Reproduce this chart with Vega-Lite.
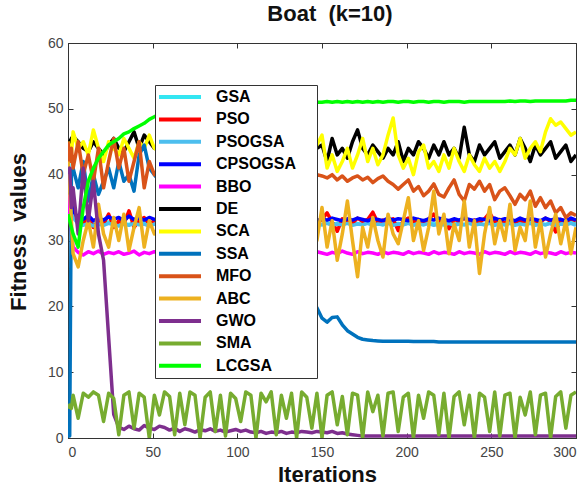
{
"$schema":"https://vega.github.io/schema/vega-lite/v6.json",
"width":508,"height":395,
"autosize":{"type":"none"},
"padding":{"left":68,"top":43,"right":11,"bottom":48},
"background":"white",
"config":{"font":"Liberation Sans","view":{"stroke":"#333","strokeWidth":1}},
"title":{"text":"Boat\u00a0 (k=10)","fontSize":22,"fontWeight":"bold","color":"#111","offset":10,"dx":8},
"data":{"values":[
{"it":0,"GSA":43,"PSO":40,"PSOGSA":42,"CPSOGSA":41,"BBO":37,"DE":44,"SCA":45,"SSA":0.3,"MFO":45,"ABC":42,"GWO":40,"SMA":4.5,"LCGSA":34},
{"it":1,"GSA":40,"PSO":38,"PSOGSA":39,"CPSOGSA":38,"BBO":34,"DE":45,"SCA":44,"SSA":0.3,"MFO":42,"ABC":38,"GWO":41,"SMA":5,"LCGSA":33},
{"it":2,"GSA":36,"PSO":36,"PSOGSA":35,"CPSOGSA":36,"BBO":31,"DE":45.5,"SCA":43,"SSA":40,"MFO":44,"ABC":33,"GWO":35,"SMA":4.5,"LCGSA":32},
{"it":3,"GSA":34,"PSO":34,"PSOGSA":33.5,"CPSOGSA":34.5,"BBO":29,"DE":45.8,"SCA":46.5,"SSA":41,"MFO":41,"ABC":28,"GWO":38,"SMA":6.5,"LCGSA":31},
{"it":6,"GSA":33,"PSO":33,"PSOGSA":32.5,"CPSOGSA":33.5,"BBO":28.2,"DE":45,"SCA":44,"SSA":38,"MFO":45,"ABC":26,"GWO":31,"SMA":3,"LCGSA":29},
{"it":9,"GSA":32.8,"PSO":32.5,"PSOGSA":32.3,"CPSOGSA":33.2,"BBO":27.8,"DE":44,"SCA":45,"SSA":42,"MFO":40,"ABC":30,"GWO":41,"SMA":6.8,"LCGSA":35},
{"it":12,"GSA":32.5,"PSO":33.5,"PSOGSA":32.6,"CPSOGSA":33.8,"BBO":28.3,"DE":43.5,"SCA":43,"SSA":36,"MFO":43,"ABC":33,"GWO":33,"SMA":6.2,"LCGSA":39},
{"it":15,"GSA":32.7,"PSO":32,"PSOGSA":32.2,"CPSOGSA":33,"BBO":28,"DE":45,"SCA":46.8,"SSA":40,"MFO":39,"ABC":29,"GWO":39,"SMA":7,"LCGSA":41},
{"it":18,"GSA":32.4,"PSO":33,"PSOGSA":32.5,"CPSOGSA":33.4,"BBO":28.4,"DE":44,"SCA":44,"SSA":37,"MFO":44,"ABC":35.5,"GWO":31,"SMA":6.5,"LCGSA":42.5},
{"it":21,"GSA":32.6,"PSO":32.5,"PSOGSA":32.3,"CPSOGSA":33.1,"BBO":27.9,"DE":43,"SCA":42,"SSA":39,"MFO":38,"ABC":31,"GWO":27,"SMA":2.5,"LCGSA":43.5},
{"it":24,"GSA":32.8,"PSO":34,"PSOGSA":32.6,"CPSOGSA":33.6,"BBO":28.2,"DE":44.5,"SCA":45,"SSA":41,"MFO":42,"ABC":29,"GWO":15.3,"SMA":6.8,"LCGSA":44.5},
{"it":27,"GSA":32.5,"PSO":32,"PSOGSA":32.4,"CPSOGSA":33.2,"BBO":28,"DE":45.5,"SCA":44,"SSA":38,"MFO":45.5,"ABC":33.5,"GWO":3.6,"SMA":6,"LCGSA":45},
{"it":30,"GSA":32.3,"PSO":33,"PSOGSA":32.2,"CPSOGSA":33.5,"BBO":28.3,"DE":44,"SCA":43,"SSA":42,"MFO":41,"ABC":30,"GWO":1.6,"SMA":0.5,"LCGSA":45.5},
{"it":33,"GSA":32.6,"PSO":32.5,"PSOGSA":32.5,"CPSOGSA":33,"BBO":27.9,"DE":43.5,"SCA":45.5,"SSA":39,"MFO":44,"ABC":34,"GWO":1.3,"SMA":6.5,"LCGSA":46.2},
{"it":36,"GSA":32.4,"PSO":34.5,"PSOGSA":32.3,"CPSOGSA":33.7,"BBO":28.1,"DE":45,"SCA":44,"SSA":40,"MFO":39,"ABC":28.5,"GWO":1.8,"SMA":7,"LCGSA":46.5},
{"it":39,"GSA":32.7,"PSO":32,"PSOGSA":32.6,"CPSOGSA":33.2,"BBO":28.4,"DE":46.5,"SCA":42.5,"SSA":37.5,"MFO":42,"ABC":32,"GWO":1.4,"SMA":1.5,"LCGSA":47},
{"it":42,"GSA":32.5,"PSO":33,"PSOGSA":32.4,"CPSOGSA":33.4,"BBO":27.8,"DE":44,"SCA":45,"SSA":43,"MFO":45,"ABC":35,"GWO":1.2,"SMA":6.8,"LCGSA":47.4},
{"it":45,"GSA":32.8,"PSO":33.5,"PSOGSA":32.5,"CPSOGSA":33.1,"BBO":28.2,"DE":46,"SCA":44,"SSA":44.5,"MFO":38,"ABC":29,"GWO":1.9,"SMA":6.2,"LCGSA":47.8},
{"it":48,"GSA":32.4,"PSO":32.5,"PSOGSA":32.2,"CPSOGSA":33.5,"BBO":28,"DE":45,"SCA":46,"SSA":41,"MFO":42,"ABC":33,"GWO":1.5,"SMA":0,"LCGSA":48.4},
{"it":51,"GSA":32.6,"PSO":33,"PSOGSA":32.5,"CPSOGSA":33.2,"BBO":28.3,"DE":44,"SCA":44,"SSA":40,"MFO":40,"ABC":31,"GWO":1.3,"SMA":6.5,"LCGSA":48.8},
{"it":54,"GSA":32.5,"PSO":33.2,"PSOGSA":32.4,"CPSOGSA":33.3,"BBO":28.1,"DE":44.5,"SCA":43.5,"SSA":39,"MFO":41,"ABC":32,"GWO":1.8,"SMA":3.5,"LCGSA":49.2},
{"it":57,"GSA":32.7,"PSO":32.8,"PSOGSA":32.6,"CPSOGSA":33,"BBO":28,"DE":43.5,"SCA":44.5,"SSA":38,"MFO":40,"ABC":30,"GWO":1.6,"SMA":7,"LCGSA":49.5},
{"it":60,"GSA":32.5,"PSO":33.4,"PSOGSA":32.3,"CPSOGSA":33.4,"BBO":28.2,"DE":45,"SCA":43,"SSA":36,"MFO":41.5,"ABC":34,"GWO":1.2,"SMA":6.3,"LCGSA":49.8},
{"it":63,"GSA":32.6,"PSO":32.9,"PSOGSA":32.5,"CPSOGSA":33.1,"BBO":27.9,"DE":44,"SCA":44,"SSA":35,"MFO":40.5,"ABC":29,"GWO":1.5,"SMA":0.5,"LCGSA":50},
{"it":66,"GSA":32.4,"PSO":33.1,"PSOGSA":32.4,"CPSOGSA":33.3,"BBO":28.3,"DE":43,"SCA":45,"SSA":34.5,"MFO":41,"ABC":33,"GWO":1.0,"SMA":6.8,"LCGSA":50.2},
{"it":69,"GSA":32.7,"PSO":32.7,"PSOGSA":32.6,"CPSOGSA":33.2,"BBO":28,"DE":44.5,"SCA":43.5,"SSA":33.5,"MFO":40,"ABC":31,"GWO":1.4,"SMA":2,"LCGSA":50.3},
{"it":72,"GSA":32.5,"PSO":33.3,"PSOGSA":32.3,"CPSOGSA":33,"BBO":28.2,"DE":45,"SCA":44,"SSA":33,"MFO":41,"ABC":35,"GWO":1.2,"SMA":7,"LCGSA":50.4},
{"it":75,"GSA":32.6,"PSO":32.8,"PSOGSA":32.5,"CPSOGSA":33.4,"BBO":28.1,"DE":43.5,"SCA":42.5,"SSA":32,"MFO":40.5,"ABC":30,"GWO":0.9,"SMA":6.5,"LCGSA":50.5},
{"it":78,"GSA":32.4,"PSO":33.2,"PSOGSA":32.4,"CPSOGSA":33.1,"BBO":27.9,"DE":44,"SCA":45,"SSA":31,"MFO":41.5,"ABC":32.5,"GWO":1.3,"SMA":0,"LCGSA":50.6},
{"it":81,"GSA":32.7,"PSO":32.9,"PSOGSA":32.6,"CPSOGSA":33.3,"BBO":28.2,"DE":45,"SCA":44,"SSA":30,"MFO":40,"ABC":29.5,"GWO":1.1,"SMA":6.2,"LCGSA":50.6},
{"it":84,"GSA":32.5,"PSO":33.4,"PSOGSA":32.3,"CPSOGSA":33.2,"BBO":28,"DE":43,"SCA":43,"SSA":29.5,"MFO":40.5,"ABC":34,"GWO":1.4,"SMA":7,"LCGSA":50.7},
{"it":87,"GSA":32.6,"PSO":32.8,"PSOGSA":32.5,"CPSOGSA":33,"BBO":28.3,"DE":44.5,"SCA":45.5,"SSA":29,"MFO":41,"ABC":31,"GWO":1.0,"SMA":1,"LCGSA":50.7},
{"it":90,"GSA":32.4,"PSO":33.1,"PSOGSA":32.4,"CPSOGSA":33.4,"BBO":28.1,"DE":44,"SCA":43.5,"SSA":28,"MFO":40,"ABC":33,"GWO":1.2,"SMA":6.5,"LCGSA":50.8},
{"it":93,"GSA":32.7,"PSO":32.7,"PSOGSA":32.6,"CPSOGSA":33.1,"BBO":27.9,"DE":45.5,"SCA":44,"SSA":27.5,"MFO":40.5,"ABC":28.5,"GWO":0.9,"SMA":0.3,"LCGSA":50.8},
{"it":96,"GSA":32.5,"PSO":33.3,"PSOGSA":32.3,"CPSOGSA":33.3,"BBO":28.2,"DE":43.5,"SCA":42,"SSA":27,"MFO":41,"ABC":32,"GWO":1.1,"SMA":6.8,"LCGSA":50.9},
{"it":99,"GSA":32.6,"PSO":32.9,"PSOGSA":32.5,"CPSOGSA":33.2,"BBO":28,"DE":44,"SCA":45,"SSA":26,"MFO":40,"ABC":35,"GWO":1.3,"SMA":6,"LCGSA":50.9},
{"it":102,"GSA":32.4,"PSO":33.2,"PSOGSA":32.4,"CPSOGSA":33,"BBO":28.3,"DE":45,"SCA":43,"SSA":25.5,"MFO":40.5,"ABC":30,"GWO":1.0,"SMA":2.5,"LCGSA":50.9},
{"it":105,"GSA":32.7,"PSO":32.8,"PSOGSA":32.6,"CPSOGSA":33.4,"BBO":28.1,"DE":43,"SCA":44.5,"SSA":25,"MFO":40,"ABC":33.5,"GWO":1.2,"SMA":7,"LCGSA":51},
{"it":108,"GSA":32.5,"PSO":33.3,"PSOGSA":32.3,"CPSOGSA":33.1,"BBO":27.9,"DE":44.5,"SCA":43.5,"SSA":24,"MFO":40.5,"ABC":29,"GWO":0.9,"SMA":6.5,"LCGSA":51},
{"it":111,"GSA":32.6,"PSO":32.7,"PSOGSA":32.5,"CPSOGSA":33.3,"BBO":28.2,"DE":44,"SCA":45,"SSA":23.5,"MFO":39.5,"ABC":34,"GWO":0.8,"SMA":0,"LCGSA":51},
{"it":114,"GSA":32.4,"PSO":33.4,"PSOGSA":32.4,"CPSOGSA":33.2,"BBO":28,"DE":45,"SCA":42.5,"SSA":23,"MFO":40,"ABC":31,"GWO":1.0,"SMA":6.8,"LCGSA":51},
{"it":117,"GSA":32.7,"PSO":32.9,"PSOGSA":32.6,"CPSOGSA":33,"BBO":28.3,"DE":43.5,"SCA":44,"SSA":22.5,"MFO":40.5,"ABC":33,"GWO":0.7,"SMA":5.5,"LCGSA":51},
{"it":120,"GSA":32.5,"PSO":33.1,"PSOGSA":32.3,"CPSOGSA":33.4,"BBO":28.1,"DE":44,"SCA":45.5,"SSA":22,"MFO":39.5,"ABC":28.5,"GWO":0.9,"SMA":7,"LCGSA":51},
{"it":123,"GSA":32.6,"PSO":32.8,"PSOGSA":32.5,"CPSOGSA":33.1,"BBO":27.9,"DE":45.5,"SCA":43,"SSA":21.8,"MFO":40,"ABC":32,"GWO":0.8,"SMA":0.5,"LCGSA":51},
{"it":126,"GSA":32.4,"PSO":33.3,"PSOGSA":32.4,"CPSOGSA":33.3,"BBO":28.2,"DE":44,"SCA":44,"SSA":21.5,"MFO":40.5,"ABC":35,"GWO":1.0,"SMA":6.5,"LCGSA":51},
{"it":129,"GSA":32.7,"PSO":32.7,"PSOGSA":32.6,"CPSOGSA":33.2,"BBO":28,"DE":43,"SCA":42.5,"SSA":21.2,"MFO":39.5,"ABC":30,"GWO":0.7,"SMA":3,"LCGSA":51},
{"it":132,"GSA":32.5,"PSO":33.2,"PSOGSA":32.3,"CPSOGSA":33,"BBO":28.3,"DE":44.5,"SCA":45,"SSA":21,"MFO":40,"ABC":33.5,"GWO":0.9,"SMA":6.8,"LCGSA":51},
{"it":135,"GSA":32.6,"PSO":32.9,"PSOGSA":32.5,"CPSOGSA":33.4,"BBO":28.1,"DE":45,"SCA":43.5,"SSA":20.8,"MFO":40.5,"ABC":29,"GWO":0.8,"SMA":0,"LCGSA":51},
{"it":138,"GSA":32.4,"PSO":33.4,"PSOGSA":32.4,"CPSOGSA":33.1,"BBO":27.9,"DE":43.5,"SCA":44,"SSA":20.5,"MFO":39.5,"ABC":34,"GWO":1.0,"SMA":7,"LCGSA":51},
{"it":141,"GSA":32.7,"PSO":32.8,"PSOGSA":32.6,"CPSOGSA":33.3,"BBO":28.2,"DE":44,"SCA":45,"SSA":20.3,"MFO":40,"ABC":31,"GWO":0.9,"SMA":6.2,"LCGSA":51},
{"it":144,"GSA":32.5,"PSO":33.1,"PSOGSA":32.3,"CPSOGSA":33.2,"BBO":28,"DE":45,"SCA":43,"SSA":20,"MFO":39.5,"ABC":33,"GWO":0.8,"SMA":1.5,"LCGSA":51},
{"it":147,"GSA":32.6,"PSO":32.7,"PSOGSA":32.5,"CPSOGSA":33,"BBO":28.3,"DE":44,"SCA":44.5,"SSA":19.8,"MFO":40,"ABC":30,"GWO":1.0,"SMA":6.8,"LCGSA":51},
{"it":150,"GSA":32.4,"PSO":33.2,"PSOGSA":32.4,"CPSOGSA":33.3,"BBO":28.1,"DE":44.5,"SCA":46,"SSA":18.2,"MFO":39.8,"ABC":35,"GWO":0.9,"SMA":0,"LCGSA":51},
{"it":153,"GSA":32.7,"PSO":34.2,"PSOGSA":32.6,"CPSOGSA":33.1,"BBO":27.9,"DE":42,"SCA":41,"SSA":17.6,"MFO":39.5,"ABC":29,"GWO":0.8,"SMA":6.5,"LCGSA":51.1},
{"it":156,"GSA":32.5,"PSO":32.8,"PSOGSA":32.3,"CPSOGSA":33.4,"BBO":28.2,"DE":45.5,"SCA":43,"SSA":18.3,"MFO":40,"ABC":33,"GWO":1.0,"SMA":7,"LCGSA":51},
{"it":159,"GSA":32.6,"PSO":31.4,"PSOGSA":32.5,"CPSOGSA":33.2,"BBO":28,"DE":43,"SCA":40.5,"SSA":18.4,"MFO":39.2,"ABC":27,"GWO":0.7,"SMA":2,"LCGSA":51.1},
{"it":162,"GSA":32.4,"PSO":33.3,"PSOGSA":32.4,"CPSOGSA":33,"BBO":28.4,"DE":44,"SCA":42,"SSA":17.2,"MFO":39.8,"ABC":31,"GWO":0.8,"SMA":6.3,"LCGSA":51},
{"it":165,"GSA":32.7,"PSO":33,"PSOGSA":32.6,"CPSOGSA":33.3,"BBO":28.1,"DE":42.5,"SCA":44,"SSA":16.3,"MFO":39,"ABC":36,"GWO":0.6,"SMA":0.5,"LCGSA":51.1},
{"it":168,"GSA":32.5,"PSO":32.6,"PSOGSA":32.3,"CPSOGSA":33.1,"BBO":27.9,"DE":45,"SCA":41,"SSA":15.8,"MFO":39.5,"ABC":30,"GWO":0.5,"SMA":6.8,"LCGSA":51},
{"it":171,"GSA":32.6,"PSO":33.4,"PSOGSA":32.5,"CPSOGSA":33.4,"BBO":28.3,"DE":46.8,"SCA":43,"SSA":15.3,"MFO":39.8,"ABC":24.5,"GWO":0.4,"SMA":6.5,"LCGSA":51.1},
{"it":174,"GSA":32.4,"PSO":32.9,"PSOGSA":32.4,"CPSOGSA":33.2,"BBO":28,"DE":44,"SCA":45.5,"SSA":15,"MFO":39.2,"ABC":32,"GWO":0.3,"SMA":0,"LCGSA":51},
{"it":177,"GSA":32.7,"PSO":33.2,"PSOGSA":32.6,"CPSOGSA":33,"BBO":28.2,"DE":43,"SCA":42,"SSA":14.9,"MFO":39.6,"ABC":29,"GWO":0.3,"SMA":7,"LCGSA":51.1},
{"it":180,"GSA":32.5,"PSO":34.3,"PSOGSA":32.3,"CPSOGSA":33.3,"BBO":28.1,"DE":44.5,"SCA":44,"SSA":14.8,"MFO":38.8,"ABC":33.5,"GWO":0.3,"SMA":4,"LCGSA":51},
{"it":183,"GSA":32.6,"PSO":32.7,"PSOGSA":32.5,"CPSOGSA":33.2,"BBO":27.9,"DE":43.5,"SCA":41.5,"SSA":14.75,"MFO":39.4,"ABC":30,"GWO":0.3,"SMA":6.5,"LCGSA":51.1},
{"it":186,"GSA":32.4,"PSO":33.1,"PSOGSA":32.4,"CPSOGSA":33,"BBO":28.3,"DE":42.5,"SCA":43,"SSA":14.7,"MFO":39.8,"ABC":27.5,"GWO":0.3,"SMA":0.3,"LCGSA":51},
{"it":189,"GSA":32.7,"PSO":32.8,"PSOGSA":32.6,"CPSOGSA":33.4,"BBO":28,"DE":44,"SCA":46,"SSA":14.7,"MFO":39,"ABC":34,"GWO":0.3,"SMA":6.8,"LCGSA":51.1},
{"it":192,"GSA":32.5,"PSO":33.3,"PSOGSA":32.3,"CPSOGSA":33.1,"BBO":28.2,"DE":43,"SCA":48.6,"SSA":14.7,"MFO":38.5,"ABC":31,"GWO":0.3,"SMA":7,"LCGSA":51.1},
{"it":195,"GSA":32.6,"PSO":31.5,"PSOGSA":32.5,"CPSOGSA":33.3,"BBO":28.1,"DE":45,"SCA":43,"SSA":14.7,"MFO":37.8,"ABC":29.5,"GWO":0.3,"SMA":1,"LCGSA":51},
{"it":198,"GSA":32.4,"PSO":33,"PSOGSA":32.4,"CPSOGSA":33.2,"BBO":27.9,"DE":42,"SCA":41,"SSA":14.7,"MFO":38.5,"ABC":33,"GWO":0.3,"SMA":6.2,"LCGSA":51.1},
{"it":201,"GSA":32.7,"PSO":33.4,"PSOGSA":32.6,"CPSOGSA":33,"BBO":28.3,"DE":44,"SCA":42.5,"SSA":14.7,"MFO":39.2,"ABC":36.5,"GWO":0.3,"SMA":6.8,"LCGSA":51.1},
{"it":204,"GSA":32.5,"PSO":32.9,"PSOGSA":32.3,"CPSOGSA":33.4,"BBO":28,"DE":43,"SCA":40,"SSA":14.65,"MFO":37.5,"ABC":30,"GWO":0.3,"SMA":0,"LCGSA":51},
{"it":207,"GSA":32.6,"PSO":33.2,"PSOGSA":32.5,"CPSOGSA":33.2,"BBO":28.2,"DE":45,"SCA":43.5,"SSA":14.65,"MFO":38.2,"ABC":33,"GWO":0.3,"SMA":6.5,"LCGSA":51.1},
{"it":210,"GSA":32.4,"PSO":32.7,"PSOGSA":32.4,"CPSOGSA":33,"BBO":28.1,"DE":44,"SCA":44.5,"SSA":14.65,"MFO":36.8,"ABC":28.5,"GWO":0.3,"SMA":3,"LCGSA":51.1},
{"it":213,"GSA":32.7,"PSO":33.3,"PSOGSA":32.6,"CPSOGSA":33.3,"BBO":27.9,"DE":42.5,"SCA":41,"SSA":14.65,"MFO":37.5,"ABC":32,"GWO":0.3,"SMA":7,"LCGSA":51},
{"it":216,"GSA":32.5,"PSO":34,"PSOGSA":32.3,"CPSOGSA":33.1,"BBO":28.3,"DE":44.5,"SCA":42,"SSA":14.65,"MFO":38.6,"ABC":37.5,"GWO":0.3,"SMA":6.5,"LCGSA":51.1},
{"it":219,"GSA":32.6,"PSO":32.8,"PSOGSA":32.5,"CPSOGSA":33.4,"BBO":28,"DE":43,"SCA":40.5,"SSA":14.6,"MFO":37,"ABC":31,"GWO":0.3,"SMA":0.5,"LCGSA":51.1},
{"it":222,"GSA":32.4,"PSO":33.1,"PSOGSA":32.4,"CPSOGSA":33.2,"BBO":28.2,"DE":45,"SCA":43,"SSA":14.6,"MFO":36.6,"ABC":34,"GWO":0.3,"SMA":6.8,"LCGSA":51},
{"it":225,"GSA":32.7,"PSO":31.8,"PSOGSA":32.6,"CPSOGSA":33,"BBO":28.1,"DE":43,"SCA":41,"SSA":14.6,"MFO":38,"ABC":28,"GWO":0.3,"SMA":0,"LCGSA":51.1},
{"it":228,"GSA":32.5,"PSO":33.2,"PSOGSA":32.3,"CPSOGSA":33.3,"BBO":27.9,"DE":44,"SCA":44,"SSA":14.6,"MFO":39.2,"ABC":32.5,"GWO":0.3,"SMA":6.3,"LCGSA":51.1},
{"it":231,"GSA":32.6,"PSO":32.9,"PSOGSA":32.5,"CPSOGSA":33.1,"BBO":28.3,"DE":42.5,"SCA":42,"SSA":14.6,"MFO":37,"ABC":30,"GWO":0.3,"SMA":7,"LCGSA":51.1},
{"it":234,"GSA":32.4,"PSO":33.4,"PSOGSA":32.4,"CPSOGSA":33.4,"BBO":28,"DE":47.2,"SCA":40.5,"SSA":14.6,"MFO":36,"ABC":36,"GWO":0.3,"SMA":2,"LCGSA":51},
{"it":237,"GSA":32.7,"PSO":32.7,"PSOGSA":32.6,"CPSOGSA":33.2,"BBO":28.2,"DE":43,"SCA":43,"SSA":14.6,"MFO":38.5,"ABC":29,"GWO":0.3,"SMA":6.5,"LCGSA":51.1},
{"it":240,"GSA":32.5,"PSO":33.1,"PSOGSA":32.3,"CPSOGSA":33,"BBO":28.1,"DE":42,"SCA":41.5,"SSA":14.6,"MFO":37.8,"ABC":33,"GWO":0.3,"SMA":0,"LCGSA":51.1},
{"it":243,"GSA":32.6,"PSO":32.8,"PSOGSA":32.5,"CPSOGSA":33.3,"BBO":27.9,"DE":44.5,"SCA":40.5,"SSA":14.6,"MFO":39,"ABC":25,"GWO":0.3,"SMA":6.8,"LCGSA":51.1},
{"it":246,"GSA":32.4,"PSO":33.3,"PSOGSA":32.4,"CPSOGSA":33.2,"BBO":28.3,"DE":43,"SCA":42.5,"SSA":14.6,"MFO":37.5,"ABC":31,"GWO":0.3,"SMA":6.2,"LCGSA":51.1},
{"it":249,"GSA":32.7,"PSO":34.2,"PSOGSA":32.6,"CPSOGSA":33,"BBO":28,"DE":44,"SCA":41,"SSA":14.6,"MFO":38.5,"ABC":35,"GWO":0.3,"SMA":1,"LCGSA":51.1},
{"it":252,"GSA":32.5,"PSO":32.9,"PSOGSA":32.3,"CPSOGSA":33.4,"BBO":28.2,"DE":45,"SCA":42,"SSA":14.6,"MFO":36.2,"ABC":29.5,"GWO":0.3,"SMA":7,"LCGSA":51.1},
{"it":255,"GSA":32.6,"PSO":33.2,"PSOGSA":32.5,"CPSOGSA":33.1,"BBO":28.1,"DE":42.5,"SCA":40.5,"SSA":14.6,"MFO":37.5,"ABC":33,"GWO":0.3,"SMA":0.3,"LCGSA":51.1},
{"it":258,"GSA":32.4,"PSO":32.6,"PSOGSA":32.4,"CPSOGSA":33.3,"BBO":27.9,"DE":43.5,"SCA":42,"SSA":14.6,"MFO":38,"ABC":30,"GWO":0.3,"SMA":6.5,"LCGSA":51.1},
{"it":261,"GSA":32.7,"PSO":33.3,"PSOGSA":32.6,"CPSOGSA":33.2,"BBO":28.3,"DE":44.5,"SCA":44,"SSA":14.6,"MFO":36.8,"ABC":35.5,"GWO":0.3,"SMA":6.8,"LCGSA":51.2},
{"it":264,"GSA":32.5,"PSO":32.8,"PSOGSA":32.3,"CPSOGSA":33,"BBO":28,"DE":43,"SCA":43,"SSA":14.6,"MFO":35.5,"ABC":28.5,"GWO":0.3,"SMA":0,"LCGSA":51.1},
{"it":267,"GSA":32.6,"PSO":33.1,"PSOGSA":32.5,"CPSOGSA":33.4,"BBO":28.2,"DE":45.5,"SCA":45.5,"SSA":14.6,"MFO":37,"ABC":32,"GWO":0.3,"SMA":6.2,"LCGSA":51.2},
{"it":270,"GSA":32.4,"PSO":32.7,"PSOGSA":32.4,"CPSOGSA":33.1,"BBO":28.1,"DE":44,"SCA":42.5,"SSA":14.6,"MFO":36.2,"ABC":30,"GWO":0.3,"SMA":3.5,"LCGSA":51.2},
{"it":273,"GSA":32.7,"PSO":33.3,"PSOGSA":32.6,"CPSOGSA":33.3,"BBO":27.9,"DE":42,"SCA":44,"SSA":14.6,"MFO":37.5,"ABC":36,"GWO":0.3,"SMA":7,"LCGSA":51.1},
{"it":276,"GSA":32.5,"PSO":33,"PSOGSA":32.3,"CPSOGSA":33.2,"BBO":28.3,"DE":44.5,"SCA":45,"SSA":14.6,"MFO":35.2,"ABC":29,"GWO":0.3,"SMA":0.5,"LCGSA":51.2},
{"it":279,"GSA":32.6,"PSO":32.8,"PSOGSA":32.5,"CPSOGSA":33,"BBO":28,"DE":43,"SCA":43.5,"SSA":14.6,"MFO":36.5,"ABC":33,"GWO":0.3,"SMA":6.5,"LCGSA":51.2},
{"it":282,"GSA":32.4,"PSO":33.4,"PSOGSA":32.4,"CPSOGSA":33.4,"BBO":28.2,"DE":44,"SCA":46.5,"SSA":14.6,"MFO":35,"ABC":27.5,"GWO":0.3,"SMA":6.8,"LCGSA":51.2},
{"it":285,"GSA":32.7,"PSO":32.9,"PSOGSA":32.6,"CPSOGSA":33.1,"BBO":28.1,"DE":45,"SCA":48.5,"SSA":14.6,"MFO":36,"ABC":31,"GWO":0.3,"SMA":0,"LCGSA":51.2},
{"it":288,"GSA":32.5,"PSO":31.3,"PSOGSA":32.3,"CPSOGSA":33.3,"BBO":27.9,"DE":42.5,"SCA":47.5,"SSA":14.6,"MFO":34.2,"ABC":34,"GWO":0.3,"SMA":6.3,"LCGSA":51.2},
{"it":291,"GSA":32.6,"PSO":33.2,"PSOGSA":32.5,"CPSOGSA":33.2,"BBO":28.3,"DE":43.5,"SCA":48,"SSA":14.6,"MFO":35,"ABC":29.5,"GWO":0.3,"SMA":7,"LCGSA":51.2},
{"it":294,"GSA":32.4,"PSO":32.8,"PSOGSA":32.4,"CPSOGSA":33,"BBO":28,"DE":44.5,"SCA":47,"SSA":14.6,"MFO":33.5,"ABC":33,"GWO":0.3,"SMA":1.5,"LCGSA":51.2},
{"it":297,"GSA":32.7,"PSO":33.3,"PSOGSA":32.6,"CPSOGSA":33.4,"BBO":28.2,"DE":42,"SCA":46,"SSA":14.6,"MFO":34.2,"ABC":28,"GWO":0.3,"SMA":6.5,"LCGSA":51.3},
{"it":300,"GSA":32.5,"PSO":33,"PSOGSA":32.3,"CPSOGSA":33.1,"BBO":28.1,"DE":43,"SCA":46.5,"SSA":14.6,"MFO":33.8,"ABC":32,"GWO":0.3,"SMA":7,"LCGSA":51.3}
]},
"transform":[{"fold":["GSA","PSO","PSOGSA","CPSOGSA","BBO","DE","SCA","SSA","MFO","ABC","GWO","SMA","LCGSA"],"as":["algo","fitness"]}],
"layer":[
{"mark":{"type":"line","strokeWidth":3.5,"clip":true,"strokeJoin":"round"},
 "encoding":{
  "x":{"field":"it","type":"quantitative","scale":{"domain":[0,300],"nice":false},
   "axis":{"orient":"bottom","values":[0,50,100,150,200,250,300],"grid":false,"labelFontSize":14,"labelColor":"#444","tickSize":-5,"tickColor":"#333","domainColor":"#333","labelPadding":12.5,
    "title":"Iterations","titleFontSize":22,"titleFontWeight":"bold","titleColor":"#111","titleX":259,"titleY":43.7,"titleBaseline":"alphabetic","titleAlign":"center","titleAnchor":"start"}},
  "y":{"field":"fitness","type":"quantitative","scale":{"domain":[0,60],"nice":false},
   "axis":{"orient":"left","values":[0,10,20,30,40,50,60],"grid":false,"labelFontSize":14,"labelColor":"#444","tickSize":-5,"tickColor":"#333","domainColor":"#333","labelPadding":10,
    "title":"Fitness\u00a0 values","titleFontSize":22,"titleFontWeight":"bold","titleColor":"#111","titleX":-43,"titleY":188.5,"titleAngle":-90,"titleBaseline":"alphabetic","titleAlign":"center","titleAnchor":"start"}},
  "color":{"field":"algo","type":"nominal",
   "scale":{"domain":["GSA","PSO","PSOGSA","CPSOGSA","BBO","DE","SCA","SSA","MFO","ABC","GWO","SMA","LCGSA"],
    "range":["#33E6F2","#FF0000","#4DBEEE","#0000FF","#FF00FF","#000000","#FFFF00","#0072BD","#D95319","#EDB120","#7E2F8E","#77AC30","#00FF00"]},
   "legend":{"orient":"none","legendX":87,"legendY":42,"title":null,"symbolType":"M-3.5,0H3.5M20.8,0H20.8","symbolSize":144,"symbolStrokeWidth":4,"symbolOffset":13,"labelOffset":28,"rowPadding":6.4,"padding":4,"labelFontSize":16,"labelFontWeight":"bold","labelColor":"#000","fillColor":"white","strokeColor":"#333"}}
 }},
{"mark":{"type":"point","opacity":0,"size":0},
 "encoding":{
  "x":{"field":"it","type":"quantitative","scale":{"domain":[0,300],"nice":false},
   "axis":{"orient":"top","values":[0,50,100,150,200,250,300],"labels":false,"title":null,"domain":false,"grid":false,"tickSize":-5,"tickColor":"#333"}},
  "y":{"field":"fitness","type":"quantitative","scale":{"domain":[0,60],"nice":false},
   "axis":{"orient":"right","values":[0,10,20,30,40,50,60],"labels":false,"title":null,"domain":false,"grid":false,"tickSize":-5,"tickColor":"#333"}}
 }}
],
"resolve":{"axis":{"x":"independent","y":"independent"}}
}
